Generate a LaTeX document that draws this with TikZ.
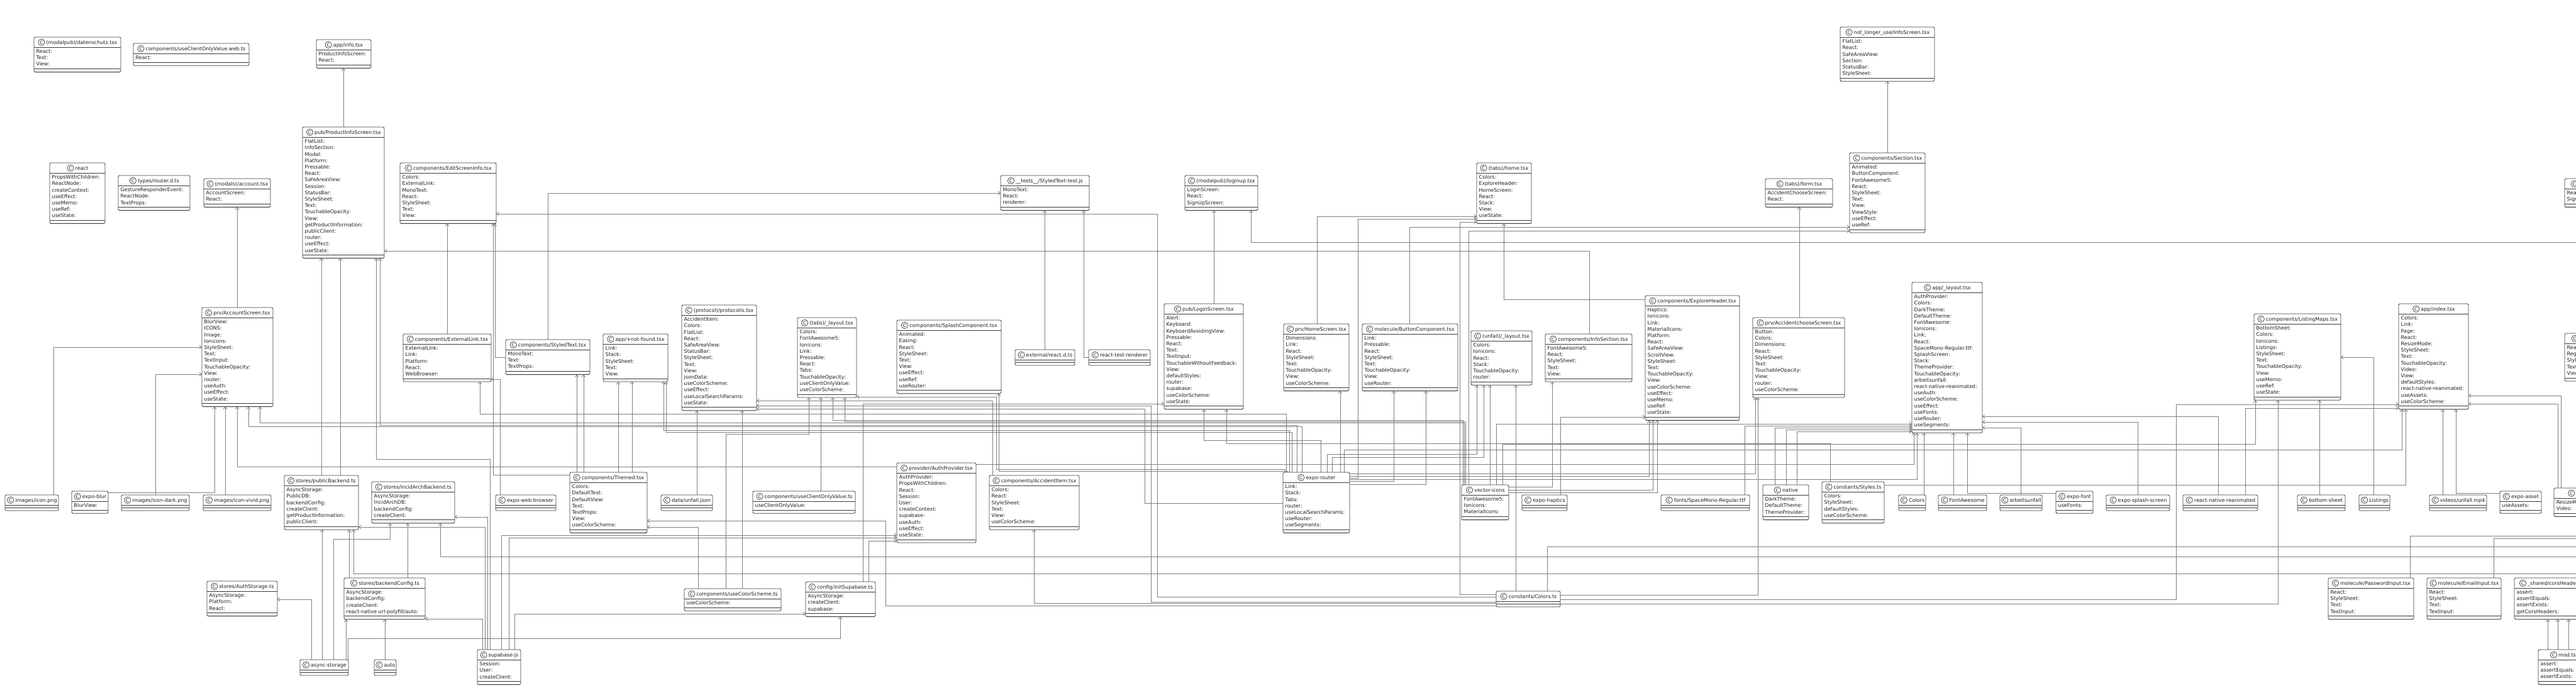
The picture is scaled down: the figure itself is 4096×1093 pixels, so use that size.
\documentclass[tikz,border=0pt]{standalone}
\usepackage{fontspec}
\setmainfont{DejaVu Sans}
\usetikzlibrary{arrows.meta}
\definecolor{boxc}{HTML}{3C3C3C}
\definecolor{edgec}{HTML}{808080}
\definecolor{txtc}{HTML}{1E1E1E}
\pgfdeclarelayer{bg}
\pgfsetlayers{bg,main}
\tikzset{
  clsbox/.style={draw=boxc,fill=white,line width=0.9pt,rounded corners=1.8pt,inner sep=0pt,outer sep=0pt},
  sepline/.style={draw=boxc,line width=0.9pt},
  ttl/.style={anchor=base,inner sep=0pt,font=\fontsize{8}{10}\selectfont,text=txtc},
  fld/.style={anchor=north west,inner sep=0pt,align=left,font=\fontsize{8}{10.2}\selectfont,text=txtc},
  circC/.style={draw=boxc,line width=0.7pt,fill=white},
  circL/.style={inner sep=0pt,font=\fontsize{7.5}{8}\selectfont,text=txtc},
  dep/.style={draw=edgec,line width=0.8pt,-{Straight Barb[length=3.5pt,width=6pt]}},
  lnk/.style={draw=edgec,line width=0.8pt},
}
\newcommand\umlcls[7]{%
  \pgfmathsetmacro\uH{25+#5*10.2}%
  \pgfmathsetmacro\uS{20+#5*10.2}%
  \pgfmathsetmacro\uW{#4-#2}%
  \node[clsbox,minimum width=\uW pt,minimum height=\uH pt,anchor=north west] (#1) at (#2,#3) {};
  \draw[sepline] ([yshift=-16pt]#1.north west) -- ([yshift=-16pt]#1.north east);
  \draw[sepline] ([yshift=-\uS pt]#1.north west) -- ([yshift=-\uS pt]#1.north east);
  \node[ttl] (#1-t) at ([xshift=7pt,yshift=-11.5pt]#1.north) {#6};
  \coordinate (#1-c) at ([yshift=-8.3pt]#1.north);
  \coordinate (#1-w) at ([xshift=-7.5pt]#1-t.west);
  \draw[circC] (#1-w |- #1-c) circle (5.2pt);
  \node[circL] at (#1-w |- #1-c) {C};
  \node[fld] at ([xshift=3.5pt,yshift=-19.5pt]#1.north west) {\vphantom{Ag}#7};
}
\begin{document}
\begin{tikzpicture}[x=1pt,y=-1pt]
\begin{pgfonlayer}{bg}
\fill[white] (0,0) rectangle (4096,1093);
\end{pgfonlayer}
\useasboundingbox (0,0) rectangle (4096,1093);

% ---------- classes ----------
\umlcls{dsch}{54}{59}{192}{3}{(modalpub)/datenschutz.tsx}{React:\\Text:\\View:}
\umlcls{ucow}{212}{69}{396}{1}{components/useClientOnlyValue.web.ts}{React:}
\umlcls{info}{503}{63}{590}{2}{app/info.tsx}{ProductInfoScreen:\\React:}
\umlcls{pis}{481}{202}{611}{18}{pub/ProductInfoScreen.tsx}{FlatList:\\InfoSection:\\Modal:\\Platform:\\Pressable:\\React:\\SafeAreaView:\\Session:\\StatusBar:\\StyleSheet:\\Text:\\TouchableOpacity:\\View:\\getProductInformation:\\publicClient:\\router:\\useEffect:\\useState:}
\umlcls{react}{79}{259}{167}{7}{react}{PropsWithChildren:\\ReactNode:\\createContext:\\useEffect:\\useMemo:\\useRef:\\useState:}
\umlcls{trd}{188}{279}{302}{3}{types/router.d.ts}{GestureResponderEvent:\\ReactNode:\\TextProps:}
\umlcls{macc}{324}{284}{430}{2}{(modals)/account.tsx}{AccountScreen:\\React:}
\umlcls{accs}{321}{489}{434}{13}{prv/AccountScreen.tsx}{BlurView:\\ICONS:\\Image:\\Ionicons:\\StyleSheet:\\Text:\\TextInput:\\TouchableOpacity:\\View:\\router:\\useAuth:\\useEffect:\\useState:}
\umlcls{esi}{636}{259}{789}{7}{components/EditScreenInfo.tsx}{Colors:\\ExternalLink:\\MonoText:\\React:\\StyleSheet:\\Text:\\View:}
\umlcls{elink}{641}{531}{781}{5}{components/ExternalLink.tsx}{ExternalLink:\\Link:\\Platform:\\React:\\WebBrowser:}
\umlcls{styled}{804}{540}{938}{3}{components/StyledText.tsx}{MonoText:\\Text:\\TextProps:}
\umlcls{notfound}{959}{531}{1062}{5}{app/+not-found.tsx}{Link:\\Stack:\\StyleSheet:\\Text:\\View:}
\umlcls{proto}{1084}{485}{1203}{14}{(protocol)/protocolls.tsx}{AccidentItem:\\Colors:\\FlatList:\\React:\\SafeAreaView:\\StatusBar:\\StyleSheet:\\Text:\\View:\\jsonData:\\useColorScheme:\\useEffect:\\useLocalSearchParams:\\useState:}
\umlcls{tabs}{1268}{505}{1362}{10}{(tabs)/\_layout.tsx}{Colors:\\FontAwesome5:\\Ionicons:\\Link:\\Pressable:\\React:\\Tabs:\\TouchableOpacity:\\useClientOnlyValue:\\useColorScheme:}
\umlcls{test}{1591}{279}{1732}{3}{\_\_tests\_\_/StyledText-test.js}{MonoText:\\React:\\renderer:}
\umlcls{loginup}{1884}{279}{2000}{3}{(modalpub)/loginup.tsx}{LoginScreen:\\React:\\SignUpScreen:}
\umlcls{splash}{1426}{509}{1592}{9}{components/SplashComponent.tsx}{Animated:\\Easing:\\React:\\StyleSheet:\\Text:\\View:\\useEffect:\\useRef:\\useRouter:}
\umlcls{login}{1851}{483}{1977}{14}{pub/LoginScreen.tsx}{Alert:\\Keyboard:\\KeyboardAvoidingView:\\Pressable:\\React:\\Text:\\TextInput:\\TouchableWithoutFeedback:\\View:\\defaultStyles:\\router:\\supabase:\\useColorScheme:\\useState:}
\umlcls{homescr}{2041}{515}{2145}{8}{prv/HomeScreen.tsx}{Dimensions:\\Link:\\React:\\StyleSheet:\\Text:\\TouchableOpacity:\\View:\\useColorScheme:}
\umlcls{home}{2348}{259}{2435}{7}{(tabs)/home.tsx}{Colors:\\ExploreHeader:\\HomeScreen:\\React:\\Stack:\\View:\\useState:}
\umlcls{button}{2166}{515}{2318}{8}{molecule/ButtonComponent.tsx}{Link:\\Pressable:\\React:\\StyleSheet:\\Text:\\TouchableOpacity:\\View:\\useRouter:}
\umlcls{ulay}{2339}{526}{2436}{6}{(unfall)/\_layout.tsx}{Colors:\\Ionicons:\\React:\\Stack:\\TouchableOpacity:\\router:}
\umlcls{infosec}{2457}{531}{2595}{5}{components/InfoSection.tsx}{FontAwesome5:\\React:\\StyleSheet:\\Text:\\View:}
\umlcls{explore}{2616}{470}{2766}{17}{components/ExploreHeader.tsx}{Haptics:\\Ionicons:\\Link:\\MaterialIcons:\\Platform:\\React:\\SafeAreaView:\\ScrollView:\\StyleSheet:\\Text:\\TouchableOpacity:\\View:\\useColorScheme:\\useEffect:\\useMemo:\\useRef:\\useState:}
\umlcls{infoscr}{2926}{43}{3076}{6}{not\_longer\_use/InfoScreen.tsx}{FlatList:\\React:\\SafeAreaView:\\Section:\\StatusBar:\\StyleSheet:}
\umlcls{section}{2941}{243}{3061}{10}{components/Section.tsx}{Animated:\\ButtonComponent:\\FontAwesome5:\\React:\\StyleSheet:\\Text:\\View:\\ViewStyle:\\useEffect:\\useRef:}
\umlcls{form}{2807}{284}{2914}{2}{(tabs)/form.tsx}{AccidentChooseScreen:\\React:}
\umlcls{accch}{2787}{505}{2933}{10}{prv/AccidentchooseScreen.tsx}{Button:\\Colors:\\Dimensions:\\React:\\StyleSheet:\\Text:\\TouchableOpacity:\\View:\\router:\\useColorScheme:}
\umlcls{alay}{3040}{449}{3152}{21}{app/\_layout.tsx}{AuthProvider:\\Colors:\\DarkTheme:\\DefaultTheme:\\FontAwesome:\\Ionicons:\\Link:\\React:\\SpaceMono-Regular.ttf:\\SplashScreen:\\Stack:\\ThemeProvider:\\TouchableOpacity:\\arbeitsunfall:\\react-native-reanimated:\\useAuth:\\useColorScheme:\\useEffect:\\useFonts:\\useRouter:\\useSegments:}
\umlcls{signup}{4078}{284}{4200}{2}{(modalpub)/signup.tsx}{React:\\SignUpScreen:}
\umlcls{lmaps}{3584}{499}{3722}{11}{components/ListingMaps.tsx}{BottomSheet:\\Colors:\\Ionicons:\\Listings:\\StyleSheet:\\Text:\\TouchableOpacity:\\View:\\useMemo:\\useRef:\\useState:}
\umlcls{aidx}{3814}{483}{3925}{14}{app/index.tsx}{Colors:\\Link:\\Page:\\React:\\ResizeMode:\\StyleSheet:\\Text:\\TouchableOpacity:\\Video:\\View:\\defaultStyles:\\react-native-reanimated:\\useAssets:\\useColorScheme:}
\umlcls{signupscr}{4078}{530}{4200}{5}{pub/SignUpScreen.tsx}{React:\\Register:\\StyleSheet:\\Text:\\View:}
\umlcls{icon}{8}{787}{93}{0}{images/icon.png}{}
\umlcls{blur}{114}{781}{172}{1}{expo-blur}{BlurView:}
\umlcls{icondark}{193}{787}{301}{0}{images/icon-dark.png}{}
\umlcls{vivid}{323}{787}{431}{0}{images/icon-vivid.png}{}
\umlcls{pubb}{452}{756}{570}{6}{stores/publicBackend.ts}{AsyncStorage:\\PublicDB:\\backendConfig:\\createClient:\\getProductInformation:\\publicClient:}
\umlcls{incid}{591}{766}{723}{4}{stores/incidArchBackend.ts}{AsyncStorage:\\IncidArchDB:\\backendConfig:\\createClient:}
\umlcls{authst}{329}{924}{441}{3}{stores/AuthStorage.ts}{AsyncStorage:\\Platform:\\React:}
\umlcls{bcfg}{547}{919}{676}{4}{stores/backendConfig.ts}{AsyncStorage:\\backendConfig:\\createClient:\\react-native-url-polyfill/auto:}
\umlcls{asyncN}{477}{1049}{554}{0}{async-storage}{}
\umlcls{autoN}{595}{1049}{630}{0}{auto}{}
\umlcls{themed}{906}{751}{1029}{7}{components/Themed.tsx}{Colors:\\DefaultText:\\DefaultView:\\Text:\\TextProps:\\View:\\useColorScheme:}
\umlcls{ewb}{788}{787}{884}{0}{expo-web-browser}{}
\umlcls{ujson}{1051}{787}{1133}{0}{data/unfall.json}{}
\umlcls{ucov}{1197}{781}{1360}{1}{components/useClientOnlyValue.ts}{useClientOnlyValue:}
\umlcls{ucs}{1088}{936}{1242}{1}{components/useColorScheme.ts}{useColorScheme:}
\umlcls{initsup}{1281}{925}{1392}{3}{config/initSupabase.ts}{AsyncStorage:\\createClient:\\supabase:}
\umlcls{supa}{759}{1033}{828}{3}{supabase-js}{Session:\\User:\\createClient:}
\umlcls{reactd}{1614}{556}{1709}{0}{external/react.d.ts}{}
\umlcls{rtr}{1731}{556}{1829}{0}{react-test-renderer}{}
\umlcls{authp}{1426}{736}{1552}{10}{provider/AuthProvider.tsx}{AuthProvider:\\PropsWithChildren:\\React:\\Session:\\User:\\createContext:\\supabase:\\useAuth:\\useEffect:\\useState:}
\umlcls{accitem}{1573}{756}{1716}{6}{components/AccidentItem.tsx}{Colors:\\React:\\StyleSheet:\\Text:\\View:\\useColorScheme:}
\umlcls{router}{2040}{751}{2146}{7}{expo-router}{Link:\\Stack:\\Tabs:\\router:\\useLocalSearchParams:\\useRouter:\\useSegments:}
\umlcls{vicons}{2324}{771}{2399}{3}{vector-icons}{FontAwesome5:\\Ionicons:\\MaterialIcons:}
\umlcls{haptics}{2420}{787}{2492}{0}{expo-haptics}{}
\umlcls{smono}{2641}{787}{2782}{0}{fonts/SpaceMono-Regular.ttf}{}
\umlcls{colors}{2379}{940}{2481}{0}{constants/Colors.ts}{}
\umlcls{native}{2803}{771}{2876}{3}{native}{DarkTheme:\\DefaultTheme:\\ThemeProvider:}
\umlcls{styles}{2897}{766}{2996}{4}{constants/Styles.ts}{Colors:\\StyleSheet:\\defaultStyles:\\useColorScheme:}
\umlcls{colnode}{3019}{787}{3062}{0}{Colors}{}
\umlcls{fa}{3082}{787}{3159}{0}{FontAwesome}{}
\umlcls{arbeit}{3180}{787}{3247}{0}{arbeitsunfall}{}
\umlcls{efont}{3269}{781}{3328}{1}{expo-font}{useFonts:}
\umlcls{esplash}{3349}{787}{3450}{0}{expo-splash-screen}{}
\umlcls{rean}{3471}{787}{3590}{0}{react-native-reanimated}{}
\umlcls{bsheet}{3653}{787}{3729}{0}{bottom-sheet}{}
\umlcls{listings}{3751}{787}{3800}{0}{Listings}{}
\umlcls{videos}{3863}{787}{3954}{0}{videos/unfall.mp4}{}
\umlcls{easset}{3975}{781}{4041}{1}{expo-asset}{useAssets:}
\umlcls{eav}{4061}{776}{4150}{2}{expo-av}{ResizeMode:\\Video:}
\umlcls{pwd}{3702}{919}{3838}{4}{molecule/PasswordInput.tsx}{React:\\StyleSheet:\\Text:\\TextInput:}
\umlcls{email}{3859}{919}{3977}{4}{molecule/EmailInput.tsx}{React:\\StyleSheet:\\Text:\\TextInput:}
\umlcls{cors}{3998}{919}{4120}{4}{\_shared/corsHeaders.ts}{assert:\\assertEquals:\\assertExists:\\getCorsHeaders:}
\umlcls{mod}{4036}{1033}{4114}{3}{mod.ts}{assert:\\assertEquals:\\assertExists:}

\coordinate (offA) at (4200,385);
\coordinate (offB) at (4200,912);
\coordinate (offC) at (4200,885);
\coordinate (offD) at (4200,869);
\coordinate (offE) at (4200,852);
\coordinate (offF) at (4200,856);

% ---------- connectors ----------
\begin{pgfonlayer}{bg}
\draw[dep] (546,0 |- pis.north) -- (546,0 |- info.south);
\draw[dep] (377,0 |- accs.north) -- (377,0 |- macc.south);
\draw[dep] (511,0 |- pubb.north) -- (511,0 |- pis.south);
\draw[dep] (541,0 |- pubb.north) -- (541,0 |- pis.south);
\draw[dep] (779,0 |- supa.north) -- (779,730) -- (598,730) -- (598,0 |- pis.south);
\draw[dep] (2062,0 |- router.north) -- (2062,676) -- (604,676) -- (604,0 |- pis.south);
\draw[dep] (2527,0 |- infosec.north) -- (2527,399) -- (pis.east |- 0,399);
\draw[dep] (85,0 |- icon.north) -- (85,552) -- (accs.west |- 0,552);
\draw[dep] (247,0 |- icondark.north) -- (247,595) -- (accs.west |- 0,595);
\draw[dep] (blur.east |- 0,783) -- (341,783) -- (341,0 |- accs.south);
\draw[dep] (358,0 |- vivid.north) -- (358,0 |- accs.south);
\draw[dep] (authp.west |- 0,742) -- (377,742) -- (377,0 |- accs.south);
\draw[dep] (2070,0 |- router.north) -- (2070,678) -- (395,678) -- (395,0 |- accs.south);
\draw[dep] (2328,0 |- vicons.north) -- (2328,672) -- (413,672) -- (413,0 |- accs.south);
\draw[dep] (711,0 |- elink.north) -- (711,0 |- esi.south);
\draw[dep] (themed.west |- 0,755) -- (784,755) -- (784,0 |- esi.south);
\draw[dep] (styled.west |- 0,568) -- (787,568) -- (787,0 |- esi.south);
\draw[dep] (colors.west |- 0,949) -- (1840,949) -- (1840,340) -- (esi.east |- 0,340);
\draw[dep] (871,0 |- styled.north) -- (871,307) -- (test.west |- 0,307);
\draw[dep] (1661,0 |- reactd.north) -- (1661,0 |- test.south);
\draw[dep] (rtr.west |- 0,568) -- (1723,568) -- (1723,0 |- test.south);
\draw[dep] (1930,0 |- login.north) -- (1930,0 |- loginup.south);
\draw[dep] (offA) -- (1989,385) -- (1989,0 |- loginup.south);
\draw[dep] (2094,0 |- homescr.north) -- (2094,344) -- (home.west |- 0,344);
\draw[dep] (router.east |- 0,760) -- (2159,760) -- (2159,348) -- (home.west |- 0,348);
\draw[dep] (colors.west |- 0,945) -- (2321,945) -- (2321,353) -- (home.west |- 0,353);
\draw[dep] (explore.west |- 0,476) -- (2391,476) -- (2391,0 |- home.south);
\draw[dep] (2241,0 |- button.north) -- (2241,361) -- (section.west |- 0,361);
\draw[dep] (2335,0 |- vicons.north) -- (2335,367) -- (section.west |- 0,367);
\draw[dep] (2861,0 |- accch.north) -- (2861,0 |- form.south);
\draw[dep] (3001,0 |- section.north) -- (3001,0 |- infoscr.south);
\draw[dep] (1305,0 |- ucov.north) -- (1305,0 |- tabs.south);
\draw[dep] (1154,0 |- ucs.north) -- (1154,690) -- (1286,690) -- (1286,0 |- tabs.south);
\draw[dep] (2326,0 |- vicons.north) -- (2326,668) -- (1324,668) -- (1324,0 |- tabs.south);
\draw[dep] (2330,0 |- vicons.north) -- (2330,670) -- (1343,670) -- (1343,0 |- tabs.south);
\draw[dep] (2043,0 |- router.north) -- (2043,746) -- (1584,746) -- (1584,631) -- (tabs.east |- 0,631);
\draw[dep] (2047,0 |- router.north) -- (2047,749) -- (1588,749) -- (1588,0 |- splash.south);
\draw[dep] (1108,0 |- ujson.north) -- (1108,0 |- proto.south);
\draw[dep] (1578,0 |- accitem.north) -- (1578,637) -- (proto.east |- 0,637);
\draw[dep] (1180,0 |- ucs.north) -- (1180,0 |- proto.south);
\draw[dep] (colors.west |- 0,957) -- (1830,957) -- (1830,645) -- (proto.east |- 0,645);
\draw[dep] (router.west |- 0,800) -- (1820,800) -- (1820,650) -- (proto.east |- 0,650);
\draw[dep] (2100,0 |- router.north) -- (2100,700) -- (1914,700) -- (1914,0 |- login.south);
\draw[dep] (2910,0 |- styles.north) -- (2910,705) -- (1950,705) -- (1950,0 |- login.south);
\draw[dep] (1372,0 |- initsup.north) -- (1372,642) -- (login.west |- 0,642);
\draw[dep] (2131,0 |- router.north) -- (2131,0 |- homescr.south);
\draw[dep] (router.east |- 0,765) -- (2216,765) -- (2216,0 |- button.south);
\draw[dep] (router.east |- 0,770) -- (2267,770) -- (2267,0 |- button.south);
\draw[dep] (2110,0 |- router.north) -- (2110,722) -- (2348,722) -- (2348,0 |- ulay.south);
\draw[dep] (2118,0 |- router.north) -- (2118,727) -- (2359,727) -- (2359,0 |- ulay.south);
\draw[dep] (2369,0 |- vicons.north) -- (2369,0 |- ulay.south);
\draw[dep] (2410,0 |- colors.north) -- (2410,0 |- ulay.south);
\draw[dep] (vicons.east |- 0,774) -- (2468,774) -- (2468,0 |- infosec.south);
\draw[dep] (2481,0 |- haptics.north) -- (2481,663) -- (explore.west |- 0,663);
\draw[dep] (router.east |- 0,757) -- (2622,757) -- (2622,0 |- explore.south);
\draw[dep] (vicons.east |- 0,779) -- (2628,779) -- (2628,0 |- explore.south);
\draw[dep] (vicons.east |- 0,783) -- (2635,783) -- (2635,0 |- explore.south);
\draw[dep] (router.east |- 0,753) -- (2791,753) -- (2791,0 |- accch.south);
\draw[dep] (colors.east |- 0,946) -- (2795,946) -- (2795,0 |- accch.south);
\draw[dep] (2822,0 |- native.north) -- (2822,680) -- (alay.west |- 0,680);
\draw[dep] (2840,0 |- native.north) -- (2840,683) -- (alay.west |- 0,683);
\draw[dep] (2857,0 |- native.north) -- (2857,686) -- (alay.west |- 0,686);
\draw[dep] (2774,0 |- smono.north) -- (2774,677) -- (alay.west |- 0,677);
\draw[dep] (authp.east |- 0,738) -- (3043,738) -- (3043,0 |- alay.south);
\draw[dep] (router.east |- 0,762) -- (3048,762) -- (3048,0 |- alay.south);
\draw[dep] (2379,0 |- vicons.north) -- (2379,674) -- (alay.west |- 0,674);
\draw[dep] (3059,0 |- colnode.north) -- (3059,0 |- alay.south);
\draw[dep] (3106,0 |- fa.north) -- (3106,0 |- alay.south);
\draw[dep] (efont.west |- 0,784) -- (3128,784) -- (3128,0 |- alay.south);
\draw[dep] (3213,0 |- arbeit.north) -- (3213,680) -- (alay.east |- 0,680);
\draw[dep] (3399,0 |- esplash.north) -- (3399,671) -- (alay.east |- 0,671);
\draw[dep] (3527,0 |- rean.north) -- (3527,662) -- (alay.east |- 0,662);
\draw[dep] (3688,0 |- bsheet.north) -- (3688,0 |- lmaps.south);
\draw[dep] (3774,0 |- listings.north) -- (3774,568) -- (lmaps.east |- 0,568);
\draw[dep] (colors.east |- 0,960) -- (3622,960) -- (3622,0 |- lmaps.south);
\draw[dep] (2389,0 |- vicons.north) -- (2389,706) -- (3586,706) -- (3586,0 |- lmaps.south);
\draw[dep] (colors.east |- 0,953) -- (3460,953) -- (3460,643) -- (aidx.west |- 0,643);
\draw[dep] (3570,0 |- rean.north) -- (3570,649) -- (aidx.west |- 0,649);
\draw[dep] (styles.east |- 0,771) -- (3825,771) -- (3825,0 |- aidx.south);
\draw[dep] (2137,0 |- router.north) -- (2137,715) -- (3819,715) -- (3819,0 |- aidx.south);
\draw[dep] (3884,0 |- videos.north) -- (3884,0 |- aidx.south);
\draw[dep] (easset.west |- 0,784) -- (3905,784) -- (3905,0 |- aidx.south);
\draw[dep] (4072,0 |- eav.north) -- (4072,629) -- (aidx.east |- 0,629);
\draw[dep] (4067,0 |- eav.north) -- (4067,642) -- (aidx.east |- 0,642);
\draw[dep] (4051,0 |- mod.north) -- (4051,0 |- cors.south);
\draw[dep] (4067,0 |- mod.north) -- (4067,0 |- cors.south);
\draw[dep] (4084,0 |- mod.north) -- (4084,0 |- cors.south);
\draw[dep] (495,0 |- asyncN.north) -- (495,953) -- (authst.east |- 0,953);
\draw[dep] (512,0 |- asyncN.north) -- (512,0 |- pubb.south);
\draw[dep] (530,0 |- asyncN.north) -- (530,857) -- (620,857) -- (620,0 |- incid.south);
\draw[dep] (550,0 |- asyncN.north) -- (550,0 |- bcfg.south);
\draw[dep] (553,0 |- asyncN.north) -- (553,1015) -- (1336,1015) -- (1336,0 |- initsup.south);
\draw[dep] (612,0 |- autoN.north) -- (612,0 |- bcfg.south);
\draw[dep] (555,0 |- bcfg.north) -- (555,0 |- pubb.south);
\draw[dep] (648,0 |- bcfg.north) -- (648,0 |- incid.south);
\draw[dep] (767,0 |- supa.north) -- (767,984) -- (bcfg.east |- 0,984);
\draw[dep] (771,0 |- supa.north) -- (771,838) -- (pubb.east |- 0,838);
\draw[dep] (775,0 |- supa.north) -- (775,822) -- (incid.east |- 0,822);
\draw[dep] (797,0 |- supa.north) -- (797,851) -- (authp.west |- 0,851);
\draw[dep] (809,0 |- supa.north) -- (809,855) -- (authp.west |- 0,855);
\draw[dep] (818,0 |- supa.north) -- (818,976) -- (initsup.west |- 0,976);
\draw[dep] (1381,0 |- initsup.north) -- (1381,860) -- (authp.west |- 0,860);
\draw[dep] (offB) -- (562,912) -- (562,0 |- pubb.south);
\draw[dep] (offC) -- (700,885) -- (700,0 |- incid.south);
\draw[lnk] (2460,0 |- colors.north) -- (2460,869) -- (offD);
\draw[lnk] (3832,0 |- pwd.north) -- (3832,852) -- (offE);
\draw[lnk] (3965,0 |- email.north) -- (3965,856) -- (offF);
\draw[dep] (colors.west |- 0,963) -- (1408,963) -- (1408,828) -- (themed.east |- 0,828);
\draw[dep] (1110,0 |- ucs.north) -- (1110,838) -- (themed.east |- 0,838);
\draw[dep] (917,0 |- themed.north) -- (917,0 |- styled.south);
\draw[dep] (928,0 |- themed.north) -- (928,0 |- styled.south);
\draw[dep] (983,0 |- themed.north) -- (983,0 |- notfound.south);
\draw[dep] (1005,0 |- themed.north) -- (1005,0 |- notfound.south);
\draw[dep] (2050,0 |- router.north) -- (2050,684) -- (1055,684) -- (1055,0 |- notfound.south);
\draw[dep] (2054,0 |- router.north) -- (2054,687) -- (1059,687) -- (1059,0 |- notfound.south);
\draw[dep] (colors.west |- 0,959) -- (1644,959) -- (1644,0 |- accitem.south);
\draw[dep] (795,0 |- ewb.north) -- (795,603) -- (elink.east |- 0,603);
\draw[dep] (2045,0 |- router.north) -- (2045,658) -- (763,658) -- (763,0 |- elink.south);
\end{pgfonlayer}
\end{tikzpicture}
\end{document}
